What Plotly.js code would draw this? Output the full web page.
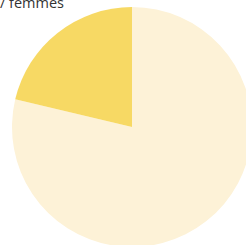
<!DOCTYPE html>
<html><head><meta charset="utf-8">
<script src="https://cdn.plot.ly/plotly-3.0.1.min.js"></script>
<style>html,body{margin:0;padding:0;overflow:hidden;width:246px;height:245px;background:#fff}#chart{width:258px;height:250px}</style>
</head><body><div id="chart"></div>
<script>
const labels = ['Hommes', 'Femmes'];
const values = [78.7, 21.3];
const colors = ['#fdf2d7', '#f7d964'];
const W = 258, H = 250;
Plotly.newPlot('chart', [{
  type: 'pie', labels: labels, values: values, sort: false,
  direction: 'clockwise', rotation: 0,
  marker: {colors: colors, line: {width: 0}},
  textinfo: 'none', hoverinfo: 'label+percent',
  domain: {x: [12/W, 252/W], y: [1-247/H, 1-7/H]}
}], {
  width: W, height: H, margin: {l:0, r:0, t:0, b:0},
  showlegend: false, paper_bgcolor: '#fff',
  title: {text: 'Hommes / femmes', font: {family: 'Open Sans', size: 14.5, color: '#333'},
    xref: 'container', x: 64/W, xanchor: 'right', yref: 'container', y: 1-3/H, yanchor: 'middle'}
}, {displayModeBar: false, staticPlot: true});
</script></body></html>
